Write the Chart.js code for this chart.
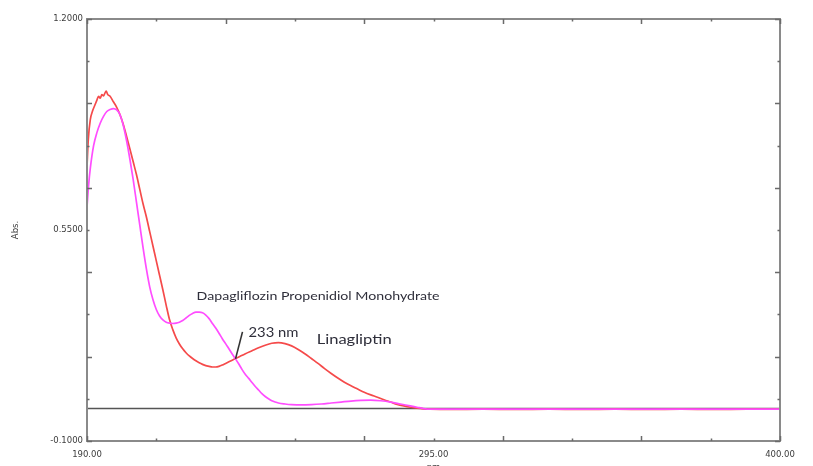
<!DOCTYPE html>
<html lang="en">
<head>
<meta charset="utf-8">
<title>UV overlay spectra</title>
<script src="https://cdn.jsdelivr.net/npm/chart.js"></script>
<style>
  html, body { margin: 0; padding: 0; background: #fff; }
  #wrap { width: 813px; height: 466px; }
</style>
</head>
<body>
<div id="wrap"><canvas id="spectra"></canvas></div>
<script>
// Linagliptin spectrum (nm / Abs)
const linaWl = [190, 190.4, 191, 191.7, 192.4, 193, 193.5, 194, 194.5, 195, 195.4, 195.8, 196.3, 197, 198, 199,
  200, 201, 202, 203, 204, 205, 206, 207, 208, 209, 210, 211, 212, 213, 214, 215, 216, 217, 218, 219,
  220, 221, 222, 223, 224, 225, 226, 227, 228, 229, 230, 231, 232, 233, 234, 235, 236, 238, 240, 242,
  244, 246, 248, 250, 252, 254, 256, 258, 260, 262, 264, 266, 268, 270, 272, 274, 276, 278, 280, 282,
  284, 286, 288, 290, 292, 294, 300, 310, 320, 330, 340, 350, 360, 370, 380, 390, 400];
const linaAbs = [0.745, 0.83, 0.89, 0.917, 0.935, 0.95, 0.962, 0.956, 0.967, 0.963, 0.971, 0.978, 0.967, 0.962, 0.945, 0.928,
  0.905, 0.875, 0.838, 0.8, 0.76, 0.72, 0.675, 0.63, 0.59, 0.545, 0.5, 0.455, 0.41, 0.365, 0.318, 0.274, 0.243, 0.218, 0.199, 0.184,
  0.172, 0.162, 0.154, 0.147, 0.141, 0.136, 0.132, 0.13, 0.128, 0.128, 0.13, 0.134, 0.139, 0.144, 0.149, 0.154, 0.159, 0.169, 0.178, 0.187,
  0.195, 0.201, 0.203, 0.2, 0.193, 0.182, 0.169, 0.154, 0.139, 0.123, 0.108, 0.094, 0.081, 0.07, 0.06, 0.05, 0.042, 0.035, 0.027, 0.02,
  0.013, 0.008, 0.004, 0.001, -0.001, -0.002, -0.003, -0.002, -0.003, -0.002, -0.003, -0.002, -0.003, -0.002, -0.003, -0.002, -0.002];

// Dapagliflozin propanediol monohydrate spectrum (nm / Abs)
const dapaWl = [190, 190.5, 191, 192, 193, 194, 195, 196, 197, 198, 199, 200, 201, 202, 203, 204, 205, 206, 207, 208,
  209, 210, 211, 212, 213, 214, 215, 216, 217, 218, 219, 220, 221, 222, 223, 224, 225, 226, 227, 228, 229, 230,
  231, 232, 233, 234, 235, 236, 237, 238, 239, 240, 241, 242, 243, 244, 245, 246, 247, 248, 250, 252, 255, 258,
  261, 264, 267, 270, 273, 276, 279, 282, 285, 288, 290, 292, 294, 300, 310, 320, 330, 340, 350, 360, 370, 380, 390, 400];
const dapaAbs = [0.62, 0.69, 0.74, 0.81, 0.85, 0.879, 0.9, 0.915, 0.921, 0.924, 0.92, 0.905, 0.872, 0.825, 0.768, 0.705, 0.635, 0.565, 0.495, 0.43,
  0.375, 0.335, 0.305, 0.285, 0.273, 0.266, 0.263, 0.262, 0.263, 0.266, 0.271, 0.279, 0.287, 0.293, 0.297, 0.297, 0.295, 0.288, 0.277, 0.262, 0.248, 0.232,
  0.215, 0.2, 0.184, 0.168, 0.153, 0.137, 0.12, 0.105, 0.093, 0.08, 0.068, 0.057, 0.046, 0.037, 0.03, 0.024, 0.02, 0.017, 0.014, 0.012, 0.011, 0.012,
  0.014, 0.017, 0.02, 0.023, 0.025, 0.026, 0.024, 0.02, 0.014, 0.008, 0.004, 0.0, -0.002, -0.002, -0.002, -0.002, -0.002, -0.002, -0.002, -0.002, -0.002, -0.002, -0.002, -0.002];

// axis divisions
const xTicks = [190, 211, 232, 253, 274, 295, 316, 337, 358, 379, 400];
const xLabels = [190, 295, 400];
const yTicks = [-0.1, 0.03, 0.16, 0.29, 0.42, 0.55, 0.68, 0.81, 0.94, 1.07, 1.2];
const yLabels = [-0.1, 0.55, 1.2];

const crossNm = 235;      // isosbestic point marked on the plot
const crossAbs = 0.153;

const toPoints = (xs, ys) => xs.map((v, i) => ({ x: v, y: ys[i] }));

// text drawn with a fixed width (the instrument export stretches its labels)
function wideText(ctx, str, px, py, font, width) {
  ctx.font = font;
  const w = ctx.measureText(str).width;
  ctx.save();
  ctx.translate(px, py);
  ctx.scale(width / w, 1);
  ctx.fillText(str, 0, 0);
  ctx.restore();
}

// box + inward tick marks on all four sides, plus annotations
const framePlugin = {
  id: 'frame',
  afterDatasetsDraw(chart) {
    const { ctx, chartArea: a, scales: { x, y } } = chart;
    ctx.save();
    ctx.strokeStyle = '#8a8a8a';
    ctx.lineWidth = 2;
    ctx.strokeRect(a.left, a.top, a.right - a.left, a.bottom - a.top);
    ctx.lineWidth = 1.5;
    ctx.strokeStyle = '#6a6a6a';
    ctx.beginPath();
    xTicks.forEach((v, i) => {
      const px = Math.round(x.getPixelForValue(v)) + 0.5;
      const len = i % 2 ? 2.5 : 5;
      ctx.moveTo(px, a.bottom); ctx.lineTo(px, a.bottom - len);
      ctx.moveTo(px, a.top); ctx.lineTo(px, a.top + len);
    });
    yTicks.forEach((v, i) => {
      const py = Math.round(y.getPixelForValue(v)) + 0.5;
      const len = i % 2 ? 2.5 : 5;
      ctx.moveTo(a.left, py); ctx.lineTo(a.left + len, py);
      ctx.moveTo(a.right, py); ctx.lineTo(a.right - len, py);
    });
    ctx.stroke();

    const cx = x.getPixelForValue(crossNm);
    const cy = y.getPixelForValue(crossAbs);
    ctx.strokeStyle = '#333';
    ctx.lineWidth = 1.6;
    ctx.beginPath();
    ctx.moveTo(cx, cy);
    ctx.lineTo(cx + 7, cy - 27);
    ctx.stroke();

    ctx.fillStyle = '#2e2e3a';
    ctx.textBaseline = 'middle';
    ctx.textAlign = 'left';
    wideText(ctx, 'Dapagliflozin Propenidiol Monohydrate',
      x.getPixelForValue(223.2), y.getPixelForValue(0.346), '11px Lato', 243);
    wideText(ctx, '233 nm', cx + 13, cy - 26, '13px Lato', 50);
    wideText(ctx, 'Linagliptin', x.getPixelForValue(259.6), y.getPixelForValue(0.213), '13px Lato', 75);
    ctx.restore();
  }
};

new Chart(document.getElementById('spectra'), {
  type: 'line',
  data: {
    datasets: [
      {
        label: 'Dapagliflozin',
        data: toPoints(dapaWl, dapaAbs),
        borderColor: '#ff4dff',
        borderWidth: 1.7,
        pointRadius: 0,
        cubicInterpolationMode: 'monotone',
        order: 0
      },
      {
        label: 'Linagliptin',
        data: toPoints(linaWl, linaAbs),
        borderColor: '#f54a4a',
        borderWidth: 1.7,
        pointRadius: 0,
        cubicInterpolationMode: 'monotone',
        order: 1
      },
      {
        label: 'baseline',
        data: [{ x: 190, y: 0 }, { x: 400, y: 0 }],
        borderColor: '#555',
        borderWidth: 1.5,
        pointRadius: 0,
        order: 2
      }
    ]
  },
  options: {
    responsive: true,
    maintainAspectRatio: false,
    animation: false,
    layout: { padding: { left: 0, right: 33, top: 19, bottom: 0 } },
    plugins: { legend: { display: false }, tooltip: { enabled: false } },
    scales: {
      x: {
        type: 'linear',
        min: 190,
        max: 400,
        grid: { display: false, drawTicks: false },
        border: { display: false },
        afterBuildTicks: s => { s.ticks = xTicks.map(v => ({ value: v })); },
        afterFit: s => { s.height = 25; },
        ticks: {
          autoSkip: false,
          maxRotation: 0,
          padding: 9,
          color: '#3c3c3c',
          font: { family: 'DejaVu Sans', size: 8.5 },
          callback: v => xLabels.includes(v) ? v.toFixed(2) : ''
        },
        title: {
          display: true,
          text: 'nm',
          color: '#3c3c3c',
          font: { family: 'DejaVu Sans', size: 8.5 },
          padding: { top: 0, bottom: -7 }
        }
      },
      y: {
        min: -0.1,
        max: 1.2,
        grid: { display: false, drawTicks: false },
        border: { display: false },
        afterBuildTicks: s => { s.ticks = yTicks.map(v => ({ value: v })); },
        afterFit: s => { s.width = 87; },
        ticks: {
          autoSkip: false,
          padding: 4,
          color: '#3c3c3c',
          font: { family: 'DejaVu Sans', size: 8.5 },
          callback: v => yLabels.some(l => Math.abs(l - v) < 1e-9) ? v.toFixed(4) : ''
        },
        title: {
          display: true,
          text: 'Abs.',
          color: '#3c3c3c',
          font: { family: 'DejaVu Sans', size: 8.5 },
          padding: { top: 11, bottom: 0 }
        }
      }
    }
  },
  plugins: [framePlugin]
});
</script>
</body>
</html>
